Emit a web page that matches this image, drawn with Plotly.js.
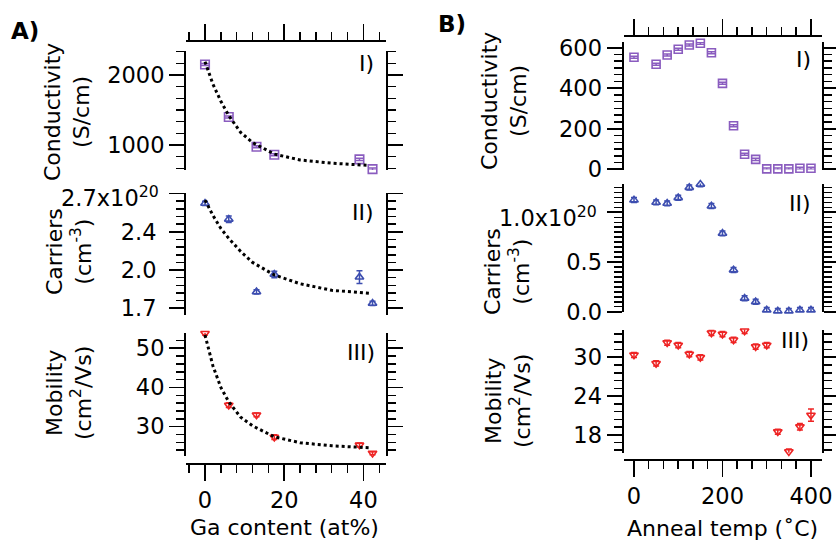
<!DOCTYPE html>
<html><head><meta charset="utf-8">
<script src="https://cdn.plot.ly/plotly-3.0.1.min.js"></script>
<style>html,body{margin:0;padding:0;background:#fff}#chart{width:836px;height:546px}</style>
</head><body><div id="chart"></div>
<script>
// ---------- Panel A data ----------
const gaContent = [0, 6, 13, 17.5, 39, 42.3];
const condA = [2150, 1400, 975, 860, 795, 655];
const condAErr = [15, 15, 15, 15, 15, 15];
const carrA = [2.61, 2.465, 1.80, 1.96, 1.935, 1.695];
const carrAErr = [0.02, 0.03, 0.02, 0.03, 0.058, 0.02];
const mobA = [53.8, 35.5, 33.0, 27.3, 25.3, 23.2];
const mobAErr = [0.4, 0.6, 0.5, 0.6, 0.5, 0.4];
const fitX = [0, 2, 4, 6, 9, 12, 17.5, 24, 32, 41.5];
const fitCond = [2190, 1870, 1625, 1420, 1180, 1035, 870, 786, 740, 708];
const fitCarr = [2.64, 2.50, 2.38, 2.29, 2.17, 2.07, 1.955, 1.875, 1.815, 1.787];
const fitMob = [53.4, 45.5, 40.0, 36.3, 32.4, 30.2, 27.4, 25.9, 25.1, 24.6];
// ---------- Panel B data ----------
const annealTemp = [0, 50, 75, 100, 125, 150, 175, 200, 225, 250, 275, 300, 325, 350, 375, 400];
const condB = [553, 518, 564, 592, 613, 622, 575, 424, 215, 74, 49, 2, 2, 2, 5, 5];
const condBErr = [5, 5, 5, 5, 5, 5, 5, 5, 5, 5, 5, 5, 5, 5, 5, 5];
const carrB = [1.124, 1.10, 1.09, 1.147, 1.25, 1.283, 1.063, 0.788, 0.42, 0.135, 0.10, 0.017, 0.007, 0.007, 0.017, 0.017];
const carrBErr = [0.025, 0.025, 0.025, 0.025, 0.025, 0.025, 0.025, 0.025, 0.025, 0.025, 0.025, 0.025, 0.025, 0.025, 0.025, 0.025];
const mobB = [30.36, 29.07, 32.26, 31.9, 30.5, 30.0, 33.8, 33.6, 32.7, 34.1, 31.65, 31.9, 18.47, 15.37, 19.24, 21.05];
const mobBErr = [0.4, 0.4, 0.4, 0.4, 0.4, 0.4, 0.4, 0.4, 0.4, 0.4, 0.4, 0.4, 0.4, 0.4, 0.5, 0.95];
// ---------- Tick labels ----------
const carrATickVals = [1.65, 2.0, 2.35, 2.7];
const carrATickText = ['1.7', '2.0', '2.4', ''];
const carrATopLabel = '2.7x10<sup>20</sup>';
const carrBTickVals = [0, 0.5, 1.0];
const carrBTickText = ['0.0', '0.5', ''];
const carrBTopLabel = '1.0x10<sup>20</sup>';

const W = 836, H = 546;
const fx = p => p / W, fy = p => 1 - p / H;
const FAM = 'DejaVu Sans, Verdana, sans-serif';
const tickfont = {family: FAM, size: 22.5, color: '#000'};
const PURPLE = '#8a5cbf', BLUE = '#3d4eb0', RED = '#ee2424';

function pts(x, y, err, xa, ya, color, symbol, size, capw) {
  return {x, y, xaxis: xa, yaxis: ya, type: 'scatter', mode: 'markers', cliponaxis: false,
    marker: {symbol, size, color, line: {color, width: 1.6}},
    error_y: {type: 'data', array: err, visible: true, color, thickness: 1.5, width: capw},
    hoverinfo: 'skip', showlegend: false};
}
function fit(x, y, xa, ya) {
  return {x, y, xaxis: xa, yaxis: ya, type: 'scatter', mode: 'lines',
    line: {color: '#000', width: 3, dash: '3px,3px'}, hoverinfo: 'skip', showlegend: false};
}
const data = [
  pts(gaContent, condA, condAErr, 'x', 'y', PURPLE, 'square-open', 8.5, 4),
  pts(gaContent, carrA, carrAErr, 'x', 'y2', BLUE, 'triangle-up-open', 7.5, 3),
  pts(gaContent, mobA, mobAErr, 'x', 'y3', RED, 'triangle-down-open', 7.5, 3),
  fit(fitX, fitCond, 'x', 'y'),
  fit(fitX, fitCarr, 'x', 'y2'),
  fit(fitX, fitMob, 'x', 'y3'),
  pts(annealTemp, condB, condBErr, 'x3', 'y4', PURPLE, 'square-open', 8, 4),
  pts(annealTemp, carrB, carrBErr, 'x3', 'y5', BLUE, 'triangle-up-open', 7.5, 3),
  pts(annealTemp, mobB, mobBErr, 'x3', 'y6', RED, 'triangle-down-open', 7.5, 3),
  {x: [null], y: [null], xaxis: 'x2', yaxis: 'y', type: 'scatter', mode: 'markers', showlegend: false, hoverinfo: 'skip'},
  {x: [null], y: [null], xaxis: 'x4', yaxis: 'y4', type: 'scatter', mode: 'markers', showlegend: false, hoverinfo: 'skip'}
];

const axBase = {showgrid: false, zeroline: false, showline: true, linewidth: 2, linecolor: '#000',
  ticks: 'outside', tickwidth: 1.7, tickcolor: '#000', tickfont, fixedrange: true};
function minor(dtick, tick0, len) {
  return {dtick, tick0, ticks: 'outside', ticklen: len, tickwidth: 1.5, tickcolor: '#000', showgrid: false};
}
function yax(top, bot, anchor, range, tickvals, ticktext, mdt, mt0, extra) {
  const a = Object.assign({}, axBase, {domain: [fy(bot), fy(top)], anchor, range, mirror: 'ticks',
    ticklen: 15, tickmode: 'array', tickvals, minor: minor(mdt, mt0, 8)}, extra || {});
  if (ticktext) a.ticktext = ticktext;
  return a;
}
function xax(l, r, pos, side, range, tickvals, mdt, labels) {
  return Object.assign({}, axBase, {domain: [fx(l), fx(r)], anchor: 'free', position: fy(pos), side, range,
    ticklen: 16, tickmode: 'array', tickvals, showticklabels: labels, minor: minor(mdt, 0, 8)});
}
const rangeA = [-4.8, 45.7], rangeB = [-23.7, 425.6];
const layout = {
  width: W, height: H, margin: {l: 0, r: 0, t: 0, b: 0}, paper_bgcolor: '#fff', plot_bgcolor: 'rgba(0,0,0,0)',
  showlegend: false,
  xaxis: xax(186, 386, 464.3, 'bottom', rangeA, [0, 20, 40], 4, true),
  xaxis2: xax(186, 386, 41, 'top', rangeA, [0, 20, 40], 4, false),
  xaxis3: xax(623.5, 822.3, 460, 'bottom', rangeB, [0, 200, 400], 200 / 6, true),
  xaxis4: xax(623.5, 822.3, 36, 'top', rangeB, [0, 200, 400], 200 / 6, false),
  yaxis: yax(51, 170, 'x', [643, 2343], [1000, 2000], null, 1000 / 6, 0),
  yaxis2: yax(193.3, 315, 'x', [1.589, 2.702], carrATickVals, carrATickText, 0.07, 2.0, {ticklabelstandoff: 8}),
  yaxis3: yax(333, 456, 'x', [22.5, 53.9], [30, 40, 50], null, 2, 0),
  yaxis4: yax(42.0, 169.5, 'x3', [-1, 628], [0, 200, 400, 600], null, 200 / 6, 0),
  yaxis5: yax(183.5, 311.7, 'x3', [0, 1.29], carrBTickVals, carrBTickText, 0.05, 0),
  yaxis6: yax(329.6, 452.8, 'x3', [15.2, 34.3], [18, 24, 30], null, 1.2, 0),
  annotations: []
};
function ann(text, x, y, opts) {
  layout.annotations.push(Object.assign({text, xref: 'paper', yref: 'paper', x: fx(x), y: fy(y),
    xanchor: 'center', yanchor: 'middle', showarrow: false, font: {family: FAM, size: 22, color: '#000'}}, opts || {}));
}
ann('<b>A)</b>', 25, 31, {font: {family: FAM, size: 23, color: '#000'}});
ann('<b>B)</b>', 452, 24, {font: {family: FAM, size: 23, color: '#000'}});
ann('I)', 376, 63, {xanchor: 'right'});
ann('II)', 376, 213, {xanchor: 'right'});
ann('III)', 377, 352, {xanchor: 'right'});
ann('I)', 813, 59, {xanchor: 'right'});
ann('II)', 813, 203, {xanchor: 'right'});
ann('III)', 811, 340, {xanchor: 'right'});
ann(carrATopLabel, 161, 196, {xanchor: 'right', font: tickfont});
ann(carrBTopLabel, 599, 217, {xanchor: 'right', font: tickfont});
ann('Conductivity<br>(S/cm)', 67, 112, {textangle: -90});
ann('Carriers<br>(cm<sup>-3</sup>)', 69, 252, {textangle: -90});
ann('Mobility<br>(cm<sup>2</sup>/Vs)', 69, 393, {textangle: -90});
ann('Conductivity<br>(S/cm)', 504, 101, {textangle: -90});
ann('Carriers<br>(cm<sup>-3</sup>)', 507, 272, {textangle: -90});
ann('Mobility<br>(cm<sup>2</sup>/Vs)', 508, 401, {textangle: -90});
ann('Ga content (at%)', 284, 527);
ann('Anneal temp (˚C)', 722.5, 528);

Plotly.newPlot('chart', data, layout, {staticPlot: true, displayModeBar: false});
</script></body></html>
